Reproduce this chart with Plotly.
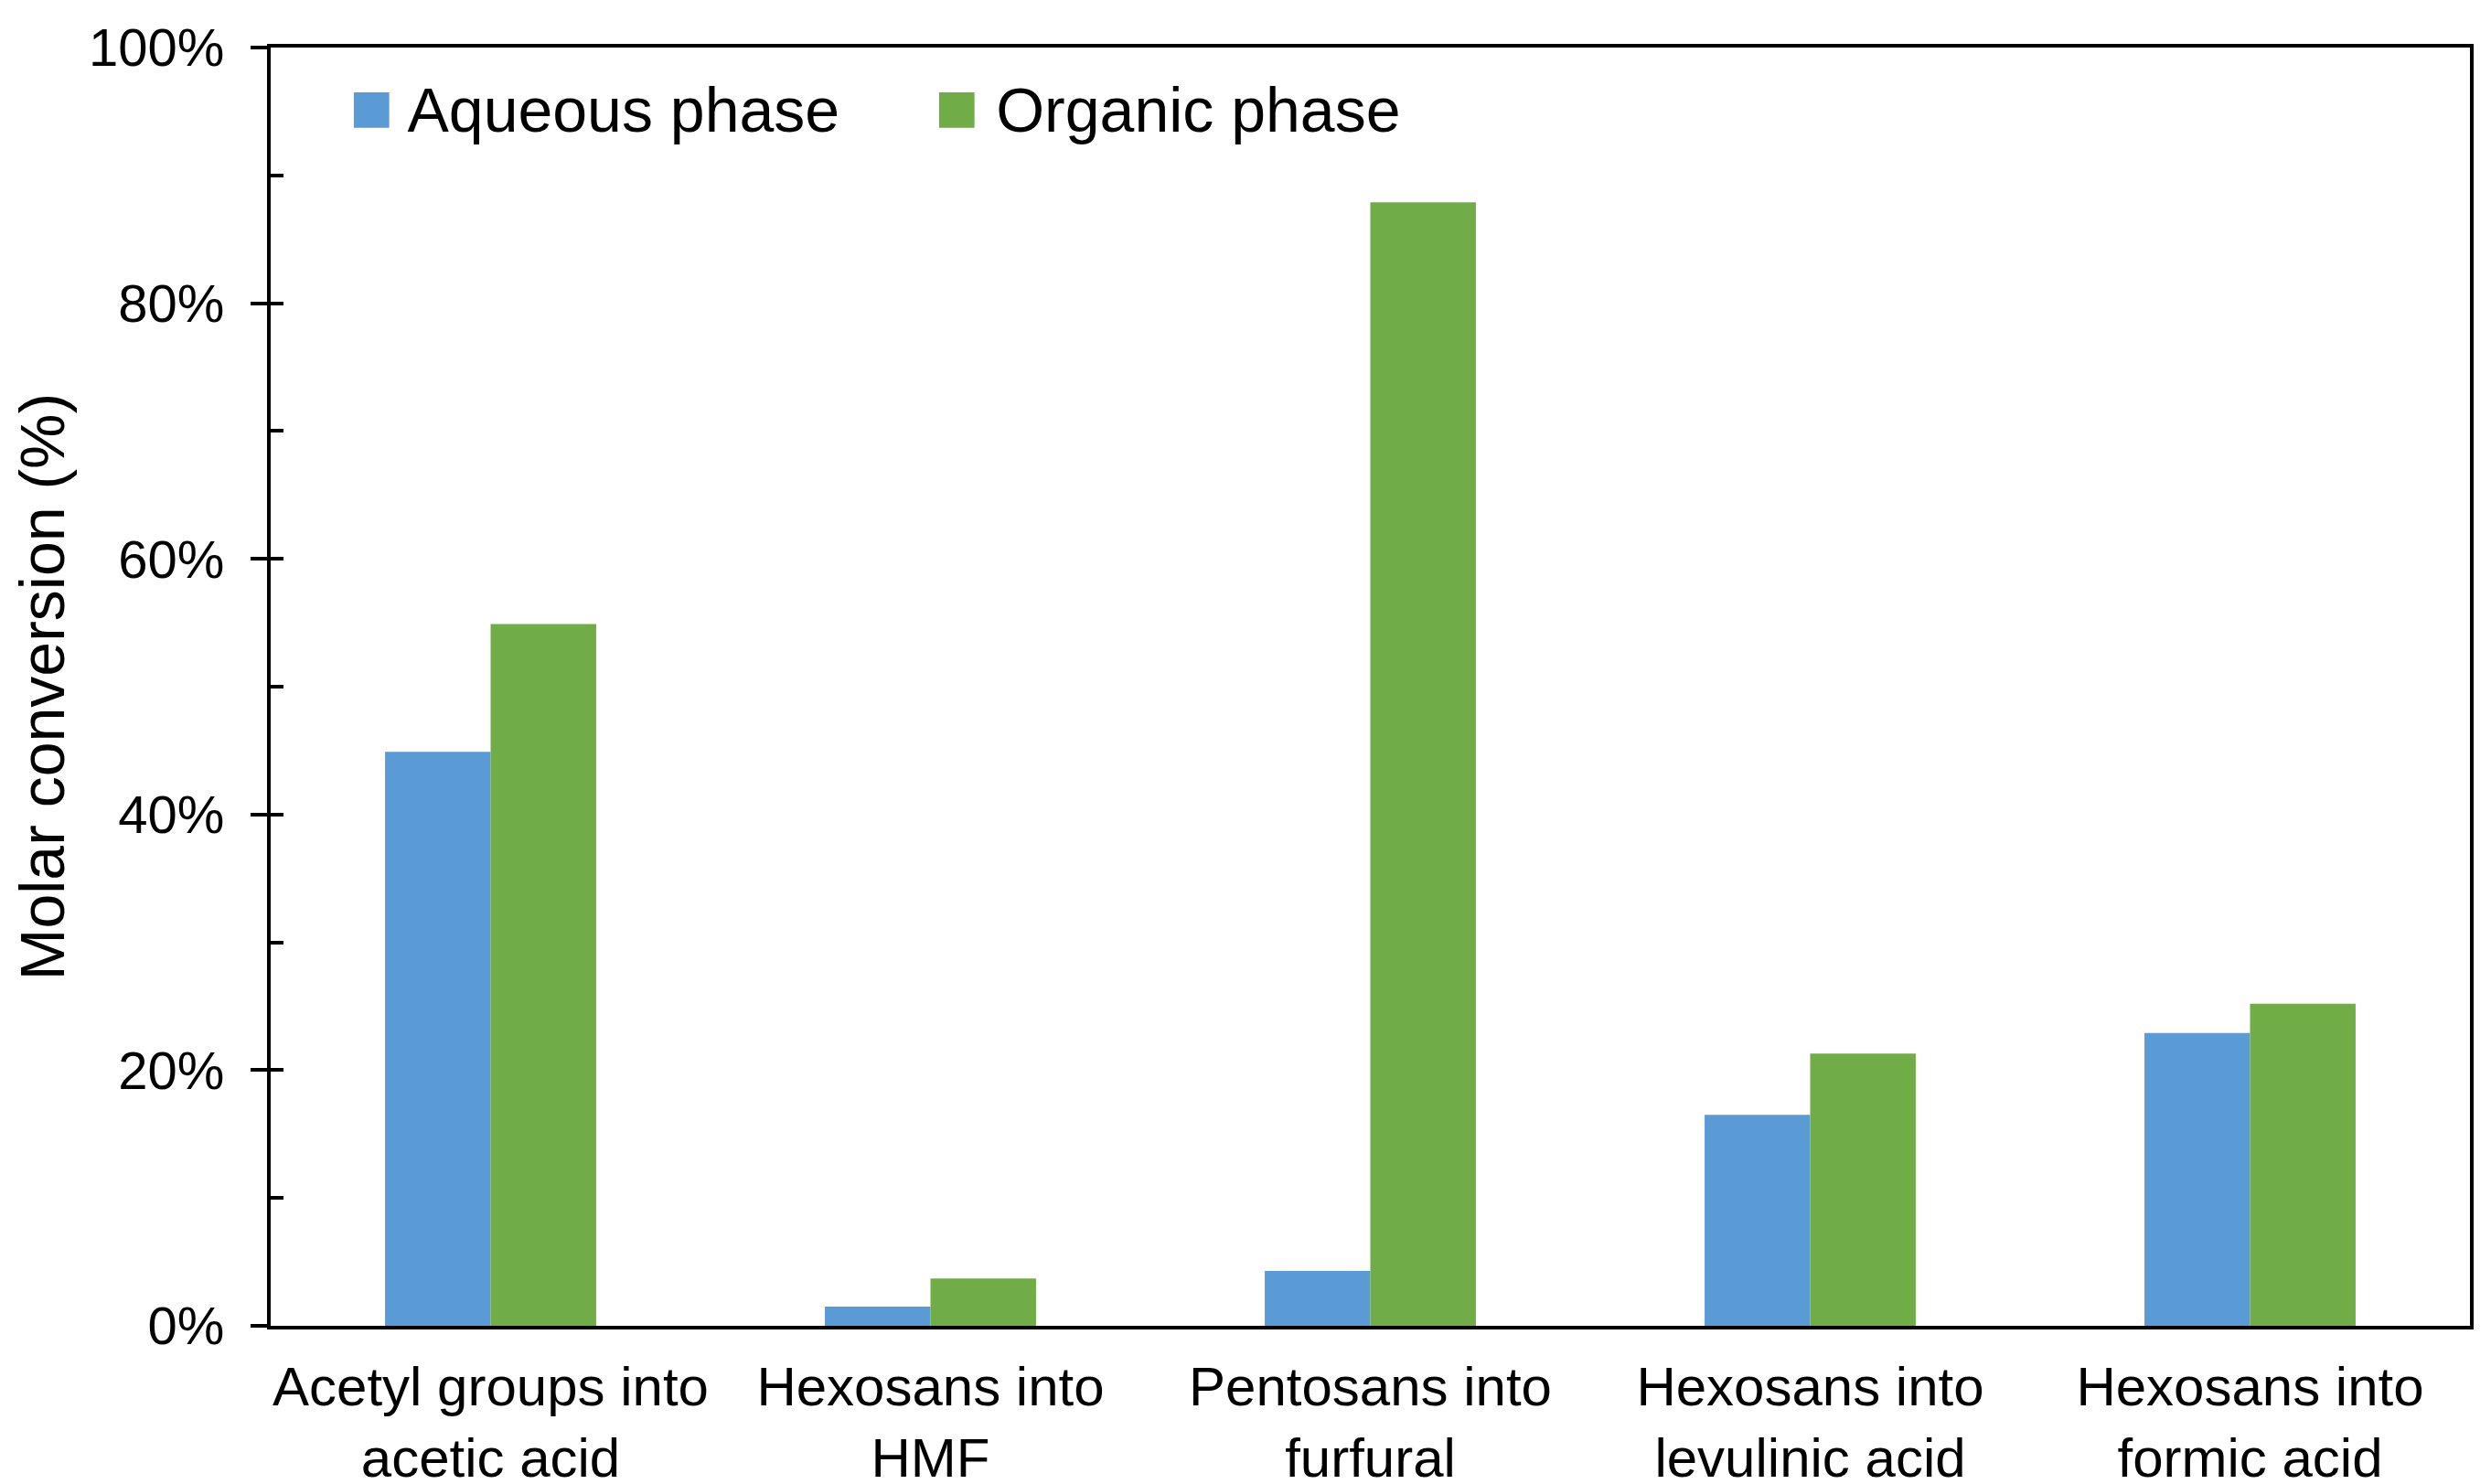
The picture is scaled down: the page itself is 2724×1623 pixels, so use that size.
import plotly.graph_objects as go

# Categorías y valores (conversión molar, %)
categorias = [
    "Acetyl groups into<br>acetic acid",
    "Hexosans into<br>HMF",
    "Pentosans into<br>furfural",
    "Hexosans into<br>levulinic acid",
    "Hexosans into<br>formic acid",
]
fase_acuosa = [44.9, 1.5, 4.3, 16.5, 22.9]
fase_organica = [54.9, 3.7, 87.9, 21.3, 25.2]
series = ["Aqueous phase", "Organic phase"]

azul = "#5B9BD5"
verde = "#70AD47"

fig = go.Figure()
fig.add_trace(go.Bar(x=categorias, y=fase_acuosa, name=series[0],
                     marker=dict(color=azul, line=dict(width=0))))
fig.add_trace(go.Bar(x=categorias, y=fase_organica, name=series[1],
                     marker=dict(color=verde, line=dict(width=0))))

# Eje secundario solo para las marcas interiores
fig.add_trace(go.Scatter(x=[None], y=[None], yaxis="y2", showlegend=False))

# Leyenda hecha con anotaciones (cuadrados grandes como en Excel)
for i, (nombre, color) in enumerate(zip(series, [azul, verde])):
    fig.add_annotation(
        xref="paper", yref="paper",
        x=[0.035, 0.301][i], y=0.954, xanchor="left", yanchor="middle",
        text=f"<span style='color:{color};font-size:80px'>■</span> {nombre}",
        showarrow=False, font=dict(size=68, color="black"),
    )

fig.update_layout(
    width=2724,
    height=1623,
    margin=dict(l=288, r=31, t=44, b=181),
    paper_bgcolor="white",
    plot_bgcolor="white",
    font=dict(family="Liberation Sans, Arial, sans-serif", size=58, color="black"),
    barmode="group",
    bargap=0.52,
    bargroupgap=0,
    showlegend=False,
    xaxis=dict(
        showline=True, linecolor="black", linewidth=4, mirror=True,
        ticks="", showgrid=False, automargin=False,
        tickfont=dict(size=60),
        ticklabelstandoff=11,
    ),
    yaxis=dict(
        range=[0, 100], dtick=20, ticksuffix="%",
        showline=True, linecolor="black", linewidth=4, mirror=True,
        ticks="outside", ticklen=18, tickwidth=4, tickcolor="black",
        showgrid=False, zeroline=False, automargin=False,
        tickfont=dict(size=58),
        ticklabelstandoff=17,
        title=dict(text="Molar conversion (%)", font=dict(size=68), standoff=22),
    ),
    yaxis2=dict(
        range=[0, 100], dtick=10, overlaying="y", side="left", anchor="x",
        ticks="inside", ticklen=14, tickwidth=4, tickcolor="black",
        showticklabels=False, showgrid=False, zeroline=False, showline=False,
        automargin=False,
    ),
)

fig.write_html("out.html")
